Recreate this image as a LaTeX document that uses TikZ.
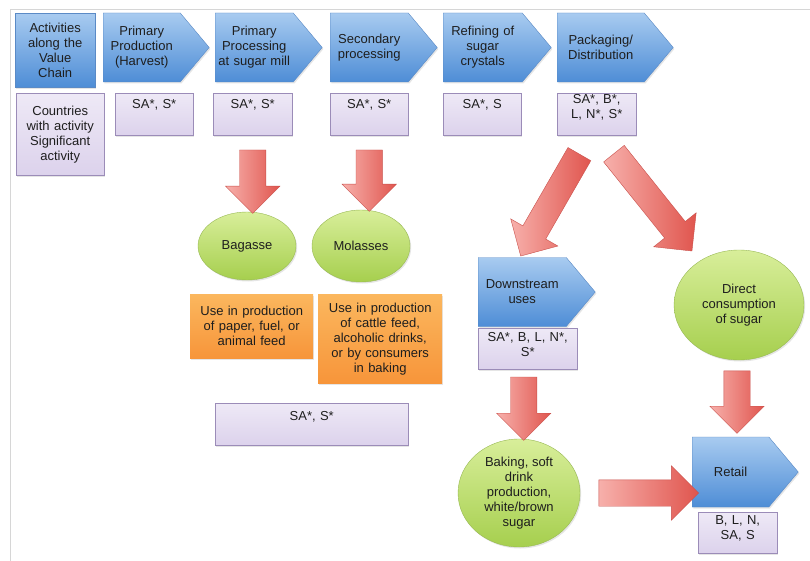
\documentclass[tikz,border=0pt]{standalone}
\usepackage{fontspec}
\setmainfont{Liberation Sans}
\usepackage{tikz}
\usetikzlibrary{positioning,calc,shapes.symbols,shapes.arrows,shapes.geometric,shadows}
\definecolor{BlueTop}{HTML}{A8CBF0}
\definecolor{BlueBot}{HTML}{4E8DD6}
\definecolor{BlueLine}{HTML}{5A8AC6}
\definecolor{LavTop}{HTML}{EEE9F6}
\definecolor{LavBot}{HTML}{DCD2EC}
\definecolor{LavLine}{HTML}{9B8CB8}
\definecolor{GreenTop}{HTML}{D8EE9A}
\definecolor{GreenBot}{HTML}{A6CF4E}
\definecolor{GreenLine}{HTML}{98B954}
\definecolor{OrangeTop}{HTML}{FBB75E}
\definecolor{OrangeBot}{HTML}{F7953A}
\definecolor{RedTail}{HTML}{F7B0AB}
\definecolor{RedHead}{HTML}{E0554E}
\definecolor{RedLine}{HTML}{C9504B}
\definecolor{Frame}{HTML}{D6D6D6}
\definecolor{Ink}{HTML}{1E1E1E}
\newcommand{\fatarrow}[2]{%
  \path let \p1=($(#2)-(#1)$), \n1={atan2(\y1,\x1)}, \n2={veclen(\x1,\y1)} in
    node[redarrow, minimum height=\n2, rotate=\n1] at ($(#1)!0.5!(#2)$) {};}

\begin{document}
\begin{tikzpicture}[x=1pt,y=-1pt,
  every node/.style={font=\fontsize{13}{15}\selectfont, text=Ink},
  softshadow/.style={drop shadow={opacity=0.2,shadow xshift=1.2pt,shadow yshift=-1.5pt}},
  headbox/.style={rectangle, draw=BlueLine, top color=BlueTop, bottom color=BlueBot,
    anchor=north west, align=center, inner sep=2pt, softshadow},
  stage/.style={signal, signal to=east, signal pointer angle=100, draw=BlueLine,
    top color=BlueTop, bottom color=BlueBot, minimum height=69pt, align=center,
    inner sep=2pt, anchor=west, softshadow},
  country/.style={rectangle, draw=LavLine, top color=LavTop, bottom color=LavBot,
    anchor=north west, align=center, inner xsep=2pt, inner ysep=3pt, softshadow},
  product/.style={ellipse, draw=GreenLine, top color=GreenTop, bottom color=GreenBot,
    align=center, inner sep=0pt, softshadow},
  usebox/.style={rectangle, top color=OrangeTop, bottom color=OrangeBot,
    anchor=north west, align=center, inner sep=2pt, softshadow},
  redarrow/.style={single arrow, single arrow head extend=14pt, single arrow tip angle=90,
    single arrow head indent=0pt, minimum width=54pt, inner xsep=0pt, inner ysep=13pt,
    draw=RedLine, left color=RedTail, right color=RedHead}]
  \fill[white] (0,0) rectangle (810,561);
  \useasboundingbox (0,0) rectangle (810,561);
  \draw[Frame, line width=1pt] (10,561) -- (10,10) -- (810,10);

  \node[headbox, minimum width=80pt, minimum height=74pt, text width=76pt] (act) at (15,13)
    {Activities\\along the\\Value\\Chain};
  \node[stage, minimum width=106pt, text width=72pt] (prod) at (103,47.5) {Primary\\Production\\(Harvest)};
  \node[stage, minimum width=107pt, text width=73pt] (mill) at (215,47.5) {Primary\\Processing\\at sugar mill};
  \node[stage, minimum width=107pt, text width=73pt] (sec) at (330,47.5) {Secondary\\processing};
  \node[stage, minimum width=108pt, text width=73pt] (refine) at (443,47.5) {Refining of\\sugar\\crystals};
  \node[stage, minimum width=116pt, text width=82pt] (pack) at (557,47.5) {Packaging/\\Distribution};

  \node[country, text width=84pt, minimum height=82pt] (ka) at (16,93)
    {Countries\\with activity\\*Significant\\activity};
  \node[country, text width=74pt, text height=12pt, text depth=24pt] (kb) at (115,93) {SA*, S*};
  \node[country, text width=75pt, text height=12pt, text depth=24pt] (kc) at (213,93) {SA*, S*};
  \node[country, text width=74pt, text height=12pt, text depth=24pt] (kd) at (330,93) {SA*, S*};
  \node[country, text width=74pt, text height=12pt, text depth=24pt] (ke) at (443,93) {SA*, S};
  \node[country, text width=75pt, text height=7pt, text depth=29pt] (kf) at (557,93) {SA*, B*,\\L, N*, S*};

  \node[product, minimum width=98pt, minimum height=68pt] (bag) at (247,246) {Bagasse};
  \node[product, minimum width=98pt, minimum height=72pt] (mol) at (361,246) {Molasses};
  \node[usebox, text width=119pt, minimum height=64pt] (ua) at (190,294)
    {Use in production\\of paper, fuel, or\\animal feed};
  \node[usebox, text width=120pt, minimum height=89pt] (ub) at (318,294)
    {Use in production\\of cattle feed,\\alcoholic drinks,\\or by consumers\\in baking};
  \node[country, text width=189pt, text height=14pt, text depth=22pt] (kg) at (215,403) {SA*, S*};

  \node[stage, minimum width=117pt, text width=78pt] (down) at (478,292) {Downstream\\uses};
  \node[country, text width=95pt, text height=10pt, text depth=25pt] (kh) at (478,328)
    {SA*, B, L, N*,\\S*};
  \node[product, minimum width=130pt, minimum height=110pt] (dir) at (739,305)
    {Direct\\consumption\\of sugar};
  \node[product, minimum width=122pt, minimum height=108pt] (bake) at (519,493)
    {Baking, soft\\drink\\production,\\white/brown\\sugar};
  \node[stage, minimum width=106pt, minimum height=70pt, text width=68pt] (ret) at (692,472) {Retail};
  \node[country, text width=75pt, text height=9pt, text depth=26pt] (ki) at (698,512)
    {B, L, N,\\SA, S};

  \coordinate (s1) at ($(kc.south)+(0,8)$);
  \coordinate (t1) at ($(s1 |- bag.north)+(0,-5)$);
  \coordinate (s2) at ($(kd.south)+(0,8)$);
  \coordinate (t2) at ($(s2 |- mol.north)+(0,-5)$);
  \coordinate (s3) at ($(kf.south)+(-14,13)$);
  \coordinate (t3) at ($(down.north west)+(46,-7)$);
  \coordinate (s4) at ($(kf.south)+(13,13)$);
  \coordinate (t4) at ($(dir.north west)+(-5,-20)$);
  \coordinate (s5) at ($(kh.south)+(-4,1)$);
  \coordinate (t5) at ($(s5 |- bake.north)+(0,-5)$);
  \coordinate (s6) at ($(dir.south)+(-2,4)$);
  \coordinate (t6) at ($(s6 |- ret.north)+(0,-10)$);
  \coordinate (s7) at ($(bake.east)+(12,0)$);
  \coordinate (t7) at (bake.east -| ret.west);
  \fatarrow{s1}{t1}
  \fatarrow{s2}{t2}
  \fatarrow{s3}{t3}
  \fatarrow{s4}{t4}
  \fatarrow{s5}{t5}
  \fatarrow{s6}{t6}
  \fatarrow{s7}{t7}
\end{tikzpicture}
\end{document}
